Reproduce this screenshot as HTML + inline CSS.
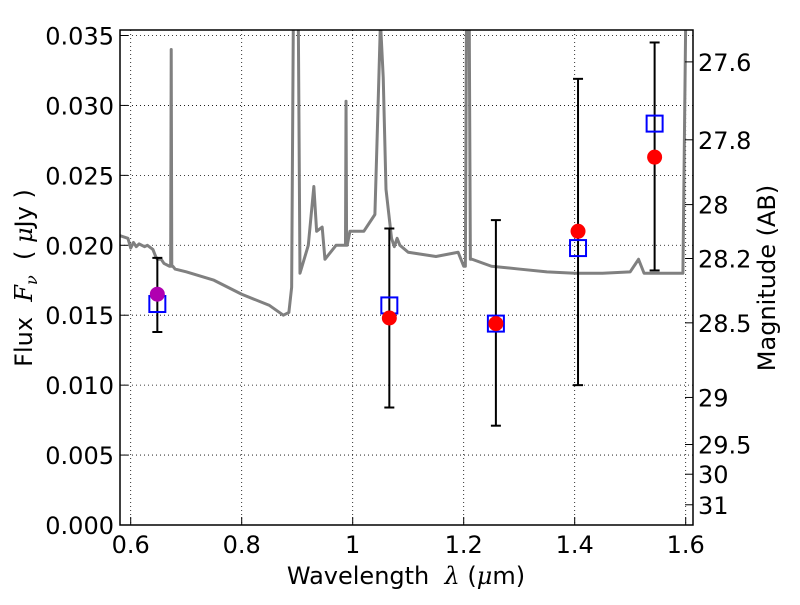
<!DOCTYPE html>
<html><head><meta charset="utf-8"><style>
body{margin:0;background:#fff}
svg text{font-family:"DejaVu Sans","Liberation Sans",sans-serif;fill:#000;white-space:pre}
</style></head><body>
<svg id="c" width="800" height="600" xmlns="http://www.w3.org/2000/svg">
<rect width="800" height="600" fill="#fff"/>
<g id="grid"></g>
<g id="plot"></g>
<rect x="120" y="30" width="573" height="495" fill="none" stroke="#000" stroke-width="1.5"/>
<g id="ax"></g>
<text x="406" y="584" font-size="24" text-anchor="middle" xml:space="preserve">Wavelength  <tspan font-style="italic" font-family="DejaVu Serif,serif">λ</tspan> (<tspan font-style="italic" font-family="DejaVu Serif,serif">μ</tspan>m)</text>
<text transform="translate(32,278) rotate(-90)" font-size="24" text-anchor="middle" xml:space="preserve">Flux  <tspan font-style="italic" font-family="DejaVu Serif,serif">F<tspan font-size="16" dy="5">ν</tspan></tspan><tspan dy="-5">  ( </tspan><tspan font-style="italic" font-family="DejaVu Serif,serif">μ</tspan>Jy )</text>
<text transform="translate(775,278) rotate(-90)" font-size="24" text-anchor="middle">Magnitude (AB)</text>
</svg>
<script>
const specWave=[0.58,0.595,0.6,0.605,0.61,0.615,0.625,0.63,0.64,0.645,0.648,0.655,0.66,0.67,0.672,0.673,0.674,0.676,0.68,0.69,0.7,0.75,0.8,0.85,0.875,0.885,0.89,0.893,0.895,0.9,0.902,0.905,0.92,0.93,0.935,0.945,0.95,0.96,0.97,0.985,0.987,0.988,0.989,0.99,0.995,1.02,1.04,1.045,1.05,1.055,1.06,1.07,1.075,1.08,1.085,1.1,1.15,1.19,1.2,1.203,1.205,1.21,1.212,1.215,1.25,1.3,1.35,1.4,1.45,1.5,1.515,1.52,1.525,1.59,1.595,1.6,1.613];
const specFlux=[0.0207,0.0205,0.0198,0.0202,0.0199,0.0201,0.0199,0.0200,0.0197,0.0192,0.019,0.019,0.0187,0.0185,0.0185,0.034,0.0185,0.0185,0.0183,0.0182,0.0181,0.0175,0.0165,0.0157,0.015,0.0152,0.017,0.036,0.036,0.036,0.036,0.018,0.02,0.0242,0.021,0.0213,0.019,0.0195,0.02,0.02,0.02,0.0303,0.02,0.02,0.021,0.021,0.0222,0.029,0.036,0.032,0.024,0.0205,0.0199,0.0205,0.02,0.0195,0.0192,0.0195,0.0185,0.0185,0.036,0.036,0.019,0.019,0.0185,0.0183,0.0181,0.018,0.018,0.0181,0.019,0.0185,0.018,0.018,0.018,0.036,0.036];
const obsWave=[0.648,1.066,1.258,1.406,1.544];
const obsFlux=[0.0165,0.0148,0.0144,0.0210,0.0263];
const modelFlux=[0.0158,0.0157,0.0144,0.0198,0.0287];
const errLow=[0.0138,0.0084,0.0071,0.0100,0.0182];
const errHigh=[0.0191,0.0212,0.0218,0.0319,0.0345];
const xTicks=[0.6,0.8,1.0,1.2,1.4,1.6];
const xTickLabels=["0.6","0.8","1","1.2","1.4","1.6"];
const yTicks=[0,0.005,0.01,0.015,0.02,0.025,0.03,0.035];
const yTickLabels=["0.000","0.005","0.010","0.015","0.020","0.025","0.030","0.035"];
const magTicks=[27.6,27.8,28,28.2,28.5,29,29.5,30,31];
const magLabels=["27.6","27.8","28","28.2","28.5","29","29.5","30","31"];
const NS='http://www.w3.org/2000/svg';
const X=w=>130.7+(w-0.6)*555;
const Y=f=>525-f*13986;
function el(t,a,p){const e=document.createElementNS(NS,t);for(const k in a)e.setAttribute(k,a[k]);document.getElementById(p).appendChild(e);return e;}
const defs=document.createElementNS(NS,'defs');defs.innerHTML='<clipPath id="cp"><rect x="120" y="30" width="573" height="495"/></clipPath>';document.getElementById('c').prepend(defs);
document.getElementById('plot').setAttribute('clip-path','url(#cp)');
xTicks.forEach((v,i)=>{
 const g=el('line',{x1:X(v),x2:X(v),y1:30,y2:525,stroke:'#000','stroke-width':0.8,'stroke-dasharray':'1,3'},'grid');
 
 const t=el('line',{x1:X(v),x2:X(v),y1:525,y2:517,stroke:'#000'},'ax');
 
 const l=el('text',{x:X(v),y:553,'font-size':24,'text-anchor':'middle'},'ax');l.textContent=xTickLabels[i];
 
});
yTicks.forEach((v,i)=>{
 const g=el('line',{x1:120,x2:693,y1:Y(v),y2:Y(v),stroke:'#000','stroke-width':0.8,'stroke-dasharray':'1,3'},'grid');
 
 const t=el('line',{x1:120,x2:128,y1:Y(v),y2:Y(v),stroke:'#000'},'ax');
 
 const l=el('text',{x:114,y:Y(v)+9,'font-size':24,'text-anchor':'end'},'ax');l.textContent=yTickLabels[i];
 
});
magTicks.forEach((m,i)=>{
 const f=Math.pow(10,(23.9-m)/2.5);
 const t=el('line',{x1:685,x2:693,y1:Y(f),y2:Y(f),stroke:'#000'},'ax');
 
 const l=el('text',{x:698,y:Y(f)+9,'font-size':24},'ax');l.textContent=magLabels[i];
 
});
const sp=el('polyline',{points:specWave.map((w,i)=>X(w)+','+Y(specFlux[i])).join(' '),fill:'none',stroke:'#808080','stroke-width':3,'stroke-linejoin':'round'},'plot');

obsWave.forEach((w,i)=>{
 const x=X(w);
 const e=el('line',{x1:x,x2:x,y1:Y(errLow[i]),y2:Y(errHigh[i]),stroke:'#000','stroke-width':2},'plot');
 
 [errLow[i],errHigh[i]].forEach(v=>{const c=el('line',{x1:x-5,x2:x+5,y1:Y(v),y2:Y(v),stroke:'#000','stroke-width':2},'plot');
  });
 const s=el('rect',{x:x-8,y:Y(modelFlux[i])-8,width:16,height:16,fill:'none',stroke:'#0000ff','stroke-width':2},'plot');
 
 const p=el('circle',{cx:x,cy:Y(obsFlux[i]),r:7.5,fill:i===0?'#b000b0':'#ff0000'},'plot');
 
});
</script>
</body></html>
